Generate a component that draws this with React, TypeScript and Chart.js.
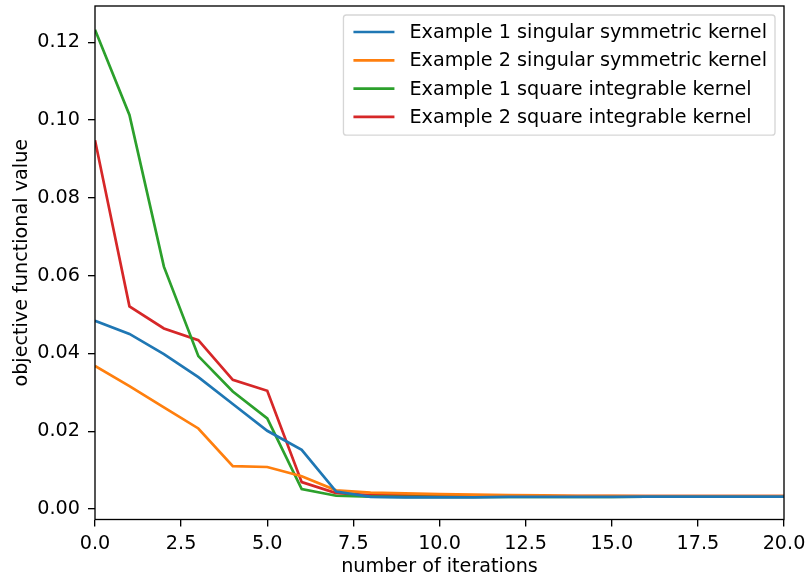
import React, { useEffect, useRef } from "react";
import { Chart, registerables } from "chart.js";

Chart.register(...registerables);

const iterations = [0, 1, 2, 3, 4, 5, 6, 7, 8, 9, 10, 11, 12, 13, 14, 15, 16, 17, 18, 19, 20];
const ex1Singular = [0.0484, 0.0450, 0.0398, 0.0339, 0.0270, 0.0201, 0.0152, 0.0045, 0.0031, 0.0030, 0.0030, 0.0030, 0.0031, 0.0031, 0.0031, 0.0031, 0.0032, 0.0032, 0.0032, 0.0032, 0.0032];
const ex2Singular = [0.0368, 0.0316, 0.0261, 0.0207, 0.0110, 0.0108, 0.0084, 0.0048, 0.0042, 0.0040, 0.0038, 0.0037, 0.0036, 0.0035, 0.0034, 0.0034, 0.0033, 0.0033, 0.0033, 0.0033, 0.0033];
const ex1Square = [0.1232, 0.1013, 0.0623, 0.0393, 0.0302, 0.0233, 0.0051, 0.0034, 0.0032, 0.0031, 0.0031, 0.0031, 0.0031, 0.0031, 0.0031, 0.0031, 0.0032, 0.0032, 0.0032, 0.0032, 0.0032];
const ex2Square = [0.0948, 0.0521, 0.0464, 0.0434, 0.0332, 0.0304, 0.0069, 0.0041, 0.0036, 0.0035, 0.0034, 0.0034, 0.0034, 0.0033, 0.0033, 0.0033, 0.0033, 0.0033, 0.0033, 0.0033, 0.0033];

const seriesLabels = [
  "Example 1 singular symmetric kernel",
  "Example 2 singular symmetric kernel",
  "Example 1 square integrable kernel",
  "Example 2 square integrable kernel",
];
const seriesColors = ["#1f77b4", "#ff7f0e", "#2ca02c", "#d62728"];
const xTicks = [0, 2.5, 5, 7.5, 10, 12.5, 15, 17.5, 20];
const yTicks = [0, 0.02, 0.04, 0.06, 0.08, 0.1, 0.12];

const FONT = "DejaVu Sans";
const FS = 19.2;

const framePlugin = {
  id: "frame",
  afterDatasetsDraw(chart: any) {
    const { ctx, chartArea } = chart;
    ctx.save();
    ctx.strokeStyle = "#000";
    ctx.lineWidth = 1.33;
    ctx.strokeRect(chartArea.left, chartArea.top, chartArea.right - chartArea.left, chartArea.bottom - chartArea.top);
    ctx.restore();
  },
};

const legendPlugin = {
  id: "mplLegend",
  afterDraw(chart: any) {
    const { ctx, chartArea } = chart;
    const dsets = chart.data.datasets;
    ctx.save();
    ctx.font = `${FS}px "${FONT}"`;
    let maxW = 0;
    dsets.forEach((d: any) => {
      maxW = Math.max(maxW, ctx.measureText(d.label).width);
    });
    const right = chartArea.right - 9;
    const top = chartArea.top + 9;
    const rowH = 28.3;
    const boxW = 10 + 41 + 15 + maxW + 8;
    const boxH = rowH * dsets.length + 7;
    const left = right - boxW;
    const r = 3;
    ctx.beginPath();
    ctx.moveTo(left + r, top);
    ctx.lineTo(right - r, top);
    ctx.quadraticCurveTo(right, top, right, top + r);
    ctx.lineTo(right, top + boxH - r);
    ctx.quadraticCurveTo(right, top + boxH, right - r, top + boxH);
    ctx.lineTo(left + r, top + boxH);
    ctx.quadraticCurveTo(left, top + boxH, left, top + boxH - r);
    ctx.lineTo(left, top + r);
    ctx.quadraticCurveTo(left, top, left + r, top);
    ctx.closePath();
    ctx.fillStyle = "rgba(255,255,255,0.8)";
    ctx.fill();
    ctx.strokeStyle = "rgba(204,204,204,0.8)";
    ctx.lineWidth = 1.33;
    ctx.stroke();
    dsets.forEach((d: any, i: number) => {
      const y = top + 17 + i * rowH;
      ctx.beginPath();
      ctx.strokeStyle = d.borderColor;
      ctx.lineWidth = 2.7;
      ctx.moveTo(left + 10, y);
      ctx.lineTo(left + 51, y);
      ctx.stroke();
      ctx.fillStyle = "#000";
      ctx.textBaseline = "middle";
      ctx.textAlign = "left";
      ctx.fillText(d.label, left + 66, y + 1);
    });
    ctx.restore();
  },
};

export default function App() {
  const ref = useRef<HTMLCanvasElement | null>(null);
  useEffect(() => {
    document.body.style.margin = "0";
    const seriesValues = [ex1Singular, ex2Singular, ex1Square, ex2Square];
    const chart = new Chart(ref.current as HTMLCanvasElement, {
      type: "line",
      data: {
        datasets: seriesValues.map((vals, i) => ({
          label: seriesLabels[i],
          data: iterations.map((x, j) => ({ x, y: vals[j] })),
          borderColor: seriesColors[i],
          backgroundColor: seriesColors[i],
          borderWidth: 2.7,
          pointRadius: 0,
          tension: 0,
          fill: false,
        })),
      },
      options: {
        animation: false,
        responsive: false,
        maintainAspectRatio: false,
        layout: { padding: { top: 6, right: 24, left: 0, bottom: 0 } },
        plugins: { legend: { display: false }, tooltip: { enabled: false } },
        scales: {
          x: {
            type: "linear",
            min: 0,
            max: 20,
            afterBuildTicks: (axis: any) => {
              axis.ticks = xTicks.map((v) => ({ value: v }));
            },
            afterFit: (axis: any) => {
              axis.height = 59.5;
              axis.paddingLeft = 0;
              axis.paddingRight = 0;
            },
            grid: { drawOnChartArea: false, drawTicks: true, tickLength: 7, color: "#000", lineWidth: 1.33 },
            border: { display: false },
            ticks: {
              color: "#000",
              padding: 6,
              maxRotation: 0,
              font: { family: FONT, size: FS },
              callback: (v: any) => Number(v).toFixed(1),
            },
            title: {
              display: true,
              text: "number of iterations",
              color: "#000",
              font: { family: FONT, size: FS },
              padding: { top: 0, bottom: 0 },
            },
          },
          y: {
            type: "linear",
            min: -0.0027,
            max: 0.1293,
            afterBuildTicks: (axis: any) => {
              axis.ticks = yTicks.map((v) => ({ value: v }));
            },
            afterFit: (axis: any) => {
              axis.width = 95;
              axis.paddingTop = 0;
              axis.paddingBottom = 0;
            },
            grid: { drawOnChartArea: false, drawTicks: true, tickLength: 7, color: "#000", lineWidth: 1.33 },
            border: { display: false },
            ticks: {
              color: "#000",
              padding: 8,
              font: { family: FONT, size: FS },
              callback: (v: any) => Number(v).toFixed(2),
            },
            title: {
              display: true,
              text: "objective functional value",
              color: "#000",
              font: { family: FONT, size: FS },
              padding: { top: 10, bottom: 0 },
            },
          },
        },
      } as any,
      plugins: [framePlugin, legendPlugin],
    });
    return () => chart.destroy();
  }, []);
  return (
    <div style={{ width: 808, height: 579 }}>
      <canvas ref={ref} width={808} height={579} style={{ display: "block", width: 808, height: 579 }} />
    </div>
  );
}
